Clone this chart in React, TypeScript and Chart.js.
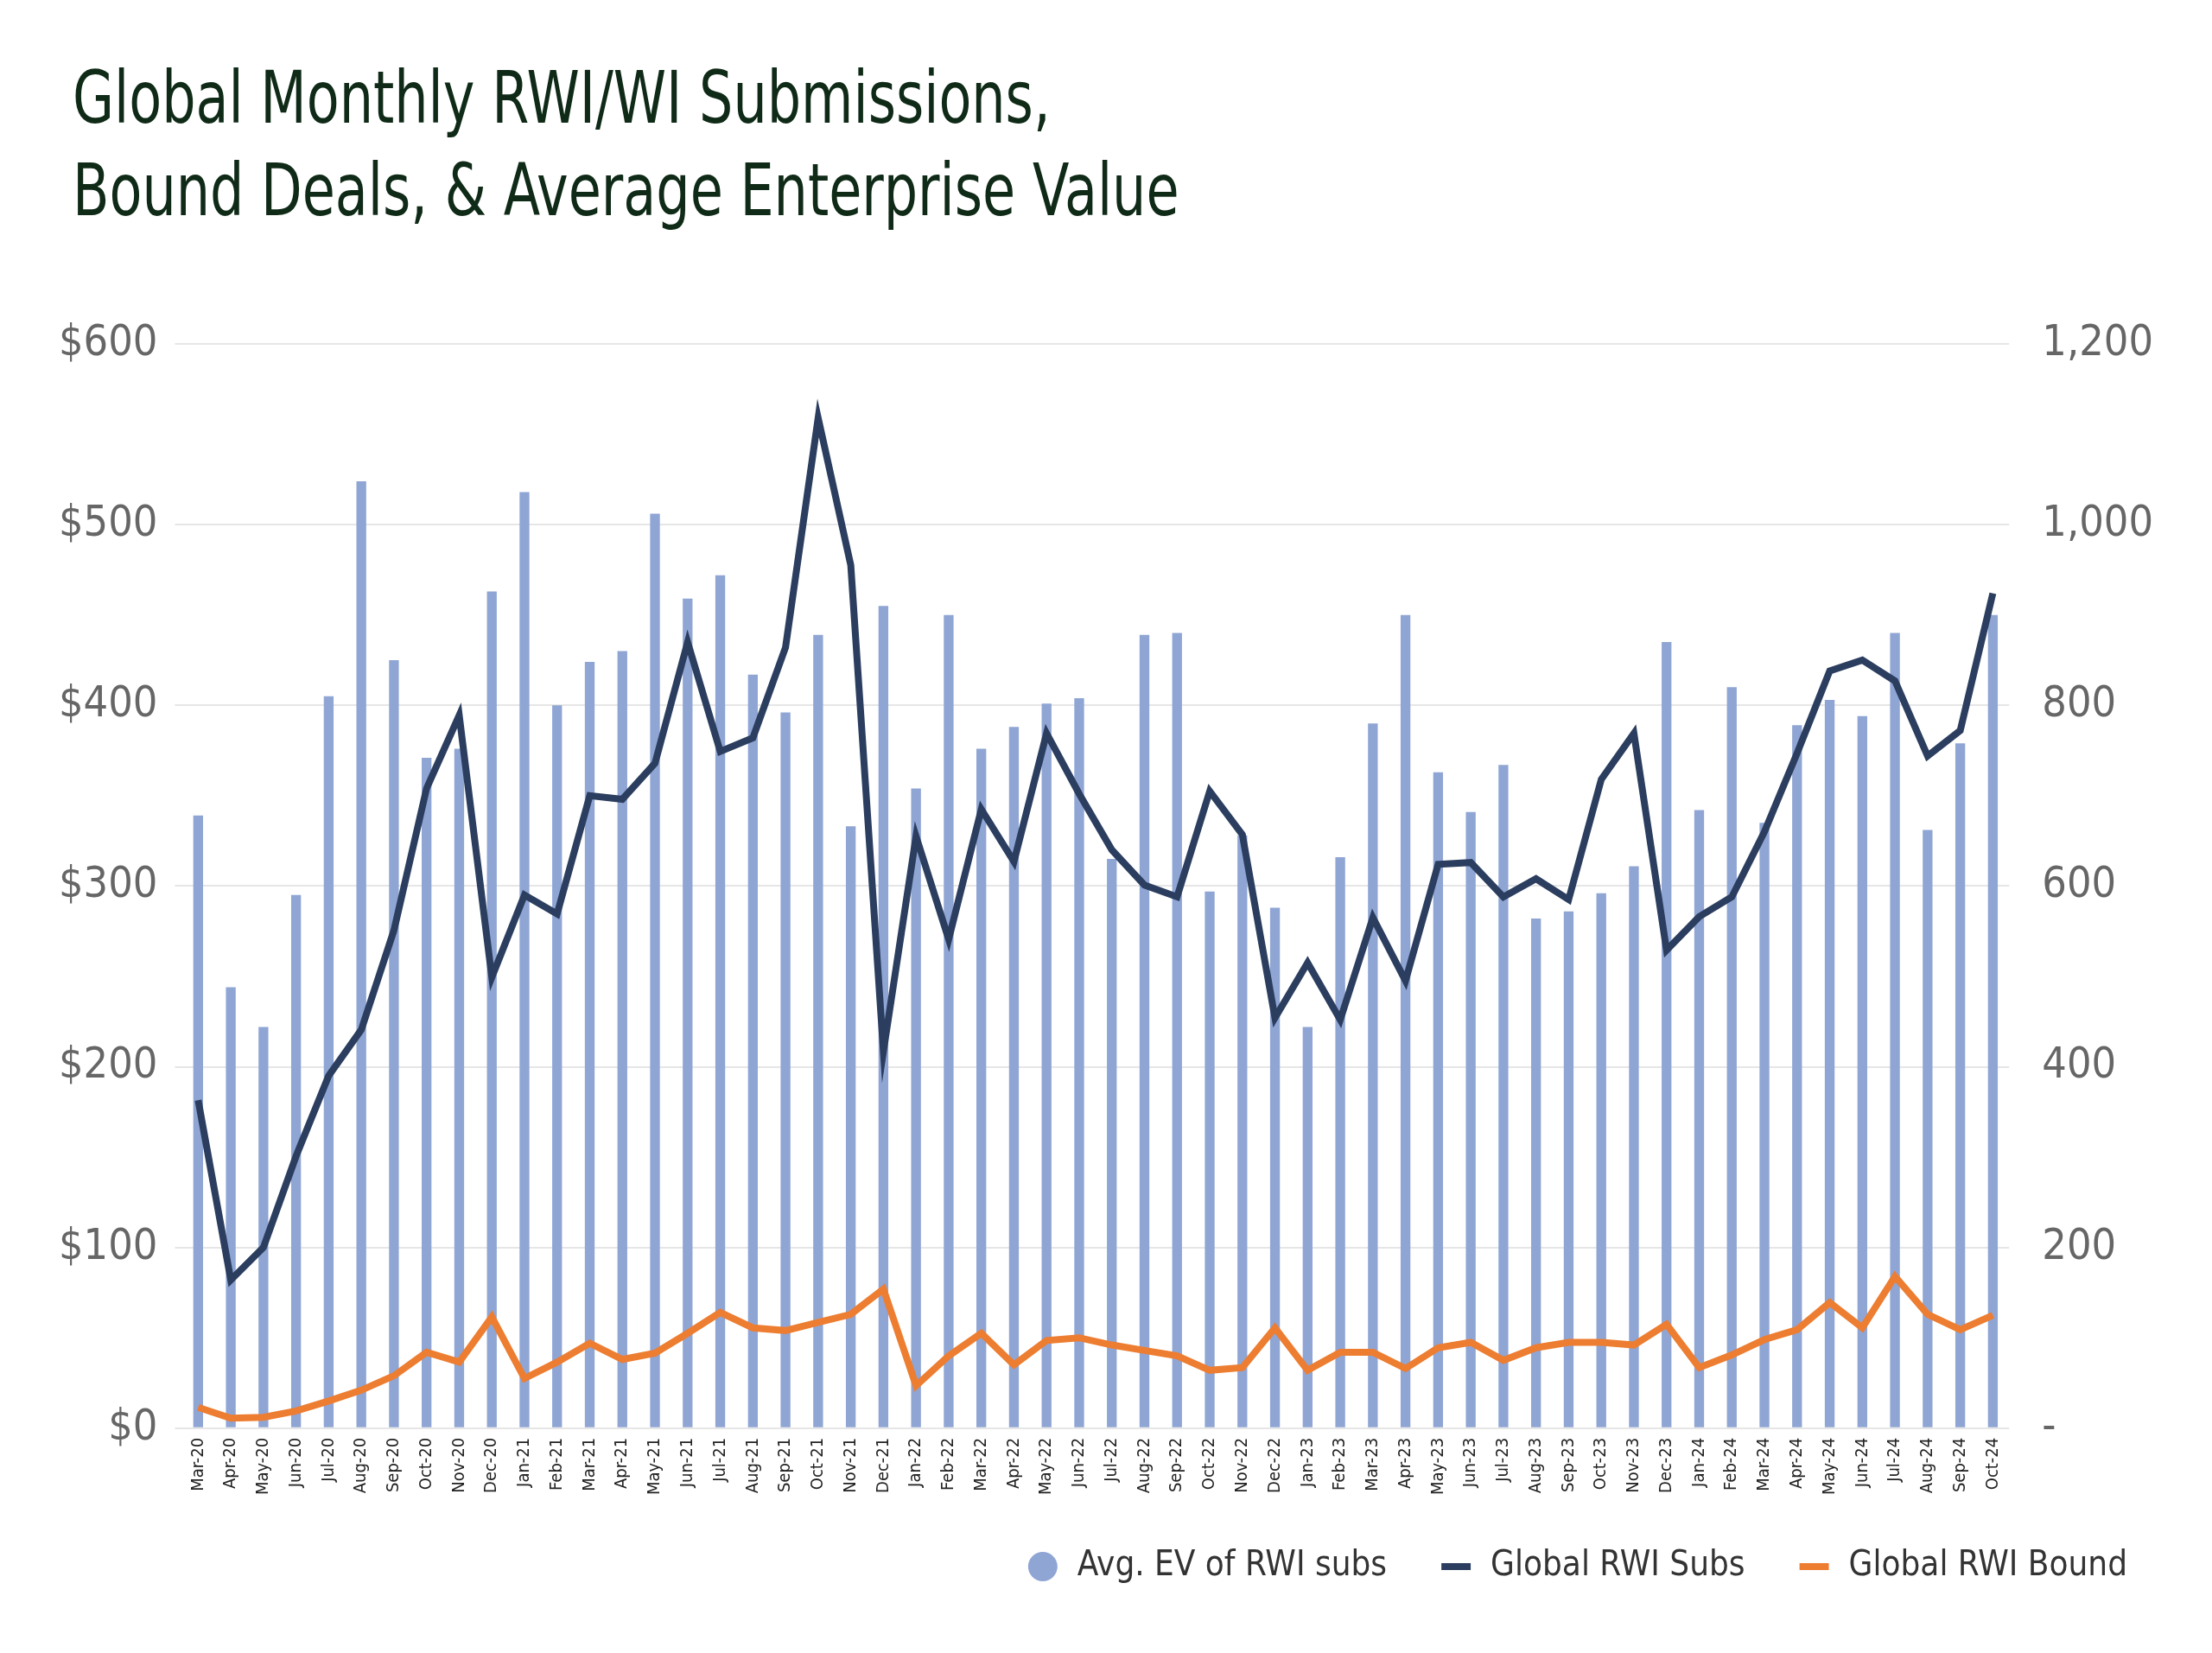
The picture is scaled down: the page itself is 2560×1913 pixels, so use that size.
import React, { useEffect, useRef } from "react";
import { Chart, registerables } from "chart.js";
Chart.register(...registerables);

const months = ["Mar-20","Apr-20","May-20","Jun-20","Jul-20","Aug-20","Sep-20","Oct-20","Nov-20","Dec-20","Jan-21","Feb-21","Mar-21","Apr-21","May-21","Jun-21","Jul-21","Aug-21","Sep-21","Oct-21","Nov-21","Dec-21","Jan-22","Feb-22","Mar-22","Apr-22","May-22","Jun-22","Jul-22","Aug-22","Sep-22","Oct-22","Nov-22","Dec-22","Jan-23","Feb-23","Mar-23","Apr-23","May-23","Jun-23","Jul-23","Aug-23","Sep-23","Oct-23","Nov-23","Dec-23","Jan-24","Feb-24","Mar-24","Apr-24","May-24","Jun-24","Jul-24","Aug-24","Sep-24","Oct-24"];
const avgEV = [339,244,222,295,405,524,425,371,376,463,518,400,424,430,506,459,472,417,396,439,333,455,354,450,376,388,401,404,315,439,440,297,328,288,222,316,390,450,363,341,367,282,286,296,311,435,342,410,335,389,403,394,440,331,379,450];
const subs = [363,164,200,301,390,441,551,708,789,499,590,569,700,696,736,870,749,764,864,1118,955,417,655,541,685,627,769,702,640,601,588,705,657,454,515,452,565,495,624,626,588,608,585,718,769,529,566,588,660,747,838,850,827,744,772,924];
const bound = [23,11,12,19,30,42,58,84,73,123,55,73,94,76,83,105,128,111,108,117,126,154,47,80,105,70,97,100,92,86,80,64,67,111,64,84,84,66,89,95,75,89,95,95,92,115,67,81,98,109,139,111,168,126,109,125];

const FONT = "'DejaVu Sans Condensed', 'Liberation Sans Narrow', sans-serif";

export default function App() {
  const ref = useRef<HTMLCanvasElement>(null);
  useEffect(() => {
    const chart = new Chart(ref.current!, {
      type: "bar",
      data: {
        labels: months,
        datasets: [
          { type: "bar", label: "Avg. EV of RWI subs", data: avgEV, backgroundColor: "#8fa5d4", barPercentage: 0.3, categoryPercentage: 1, yAxisID: "y", order: 3, pointStyle: "circle" } as any,
          { type: "line", label: "Global RWI Subs", data: subs, borderColor: "#2c3e5f", backgroundColor: "#2c3e5f", borderWidth: 8, pointRadius: 0, tension: 0, yAxisID: "y1", order: 1, pointStyle: "line" } as any,
          { type: "line", label: "Global RWI Bound", data: bound, borderColor: "#ed7d31", backgroundColor: "#ed7d31", borderWidth: 8, pointRadius: 0, tension: 0, yAxisID: "y1", order: 2, pointStyle: "line" } as any,
        ],
      },
      options: {
        animation: false,
        responsive: false,
        layout: { padding: { left: 40, right: 30, top: 20, bottom: 10 } },
        plugins: {
          legend: {
            position: "bottom", align: "end",
            labels: { usePointStyle: true, sort: (a: any, b: any) => a.datasetIndex - b.datasetIndex, font: { family: FONT, size: 40 }, color: "#333", padding: 60, boxWidth: 50, boxHeight: 24 },
          },
          tooltip: { enabled: false },
        },
        scales: {
          x: {
            grid: { display: false },
            border: { display: false },
            ticks: { autoSkip: false, maxRotation: 90, minRotation: 90, font: { family: FONT, size: 20 }, color: "#222" },
          },
          y: {
            min: 0, max: 600,
            position: "left",
            grid: { color: "#e6e6e6", lineWidth: 2 },
            border: { display: false },
            ticks: { stepSize: 100, callback: (v: any) => "$" + v, font: { family: FONT, size: 50 }, color: "#666", padding: 20 },
          },
          y1: {
            min: 0, max: 1200,
            position: "right",
            grid: { display: false },
            border: { display: false },
            ticks: { stepSize: 200, callback: (v: any) => (v === 0 ? "-" : Number(v).toLocaleString("en-US")), font: { family: FONT, size: 50 }, color: "#666", padding: 30 },
          },
        },
      },
    });
    return () => chart.destroy();
  }, []);
  return (
    <div style={{ width: 2544, height: 1890, background: "#fff", position: "relative" }}>
      <div style={{ position: "absolute", left: 76, top: 52, fontFamily: FONT, fontWeight: 500, fontSize: 84, lineHeight: "107px", color: "#0f2a17", transform: "scaleX(0.82)", transformOrigin: "left top", whiteSpace: "nowrap" }}>
        Global Monthly RWI/WI Submissions,<br />Bound Deals, &amp; Average Enterprise Value
      </div>
      <canvas ref={ref} width={2544} height={1515} style={{ position: "absolute", left: 0, top: 330 }} />
    </div>
  );
}
